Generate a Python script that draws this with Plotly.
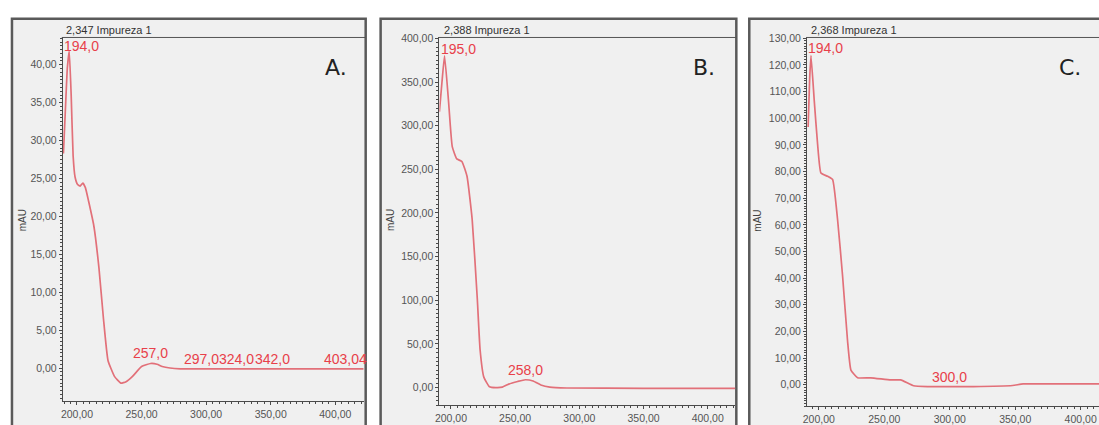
import plotly.graph_objects as go

W, H = 1099, 425

# ---------------- data (wavelength nm, absorbance mAU) ----------------
wl_a = [189.5, 191, 192.5, 194, 195.5, 197, 198.5, 200.5, 202.5, 204.5, 206.5, 209, 213, 217,
        220.5, 224, 229, 234, 238, 243, 250, 257, 262, 266, 272, 280, 300, 350, 422]
abs_a = [28.3, 34, 39.5, 41.8, 36, 28, 25.2, 24.2, 24.0, 24.4, 23.8, 22.0, 18.8, 13.2,
         6.5, 1.0, -1.1, -2.0, -1.8, -1.1, 0.2, 0.6, 0.5, 0.2, 0.0, -0.1, -0.1, -0.1, -0.1]

wl_b = [191, 193, 195, 198, 201, 204.5, 208.5, 212.5, 216.5, 220.5, 222.7, 225.6, 230, 235,
        240, 245, 252, 258, 264, 270, 277, 290, 350, 421.5]
abs_b = [316, 350, 380, 330, 276, 262, 259, 242, 193, 102, 43, 12, 1, 0,
         0.5, 4, 7, 9, 7.5, 3, 0.5, -0.5, -0.8, -0.8]

wl_c = [191.8, 193, 194, 196.5, 199, 201.6, 206.7, 210.5, 214.3, 218.1, 221.9, 224.5, 229.6,
        239.7, 254.9, 262.5, 272.4, 283, 318, 348, 356, 394, 414]
abs_c = [96.7, 115, 123.5, 106.5, 90.5, 79.4, 78.2, 77, 62, 41, 16.6, 5.5, 2.6,
         2.6, 1.8, 1.8, -0.4, -0.7, -0.7, -0.3, 0.3, 0.3, 0.3]

titles = ["2,347 Impureza 1", "2,388 Impureza 1", "2,368 Impureza 1"]
panel_letters = ["A.", "B.", "C."]

# peak labels: (text, wavelength, value)
peaks_a = [("194,0", 194, 41.8), ("257,0", 257, 0.6), ("297,0", 297, -0.1),
           ("324,0", 324, -0.1), ("342,0", 342, -0.1), ("403,04", 403, -0.1)]
peaks_b = [("195,0", 195, 380), ("258,0", 258, 9)]
peaks_c = [("194,0", 194, 123.5), ("300,0", 300, -0.7)]

y_label = "mAU"

# ---------------- layout helpers ----------------
def px(x):
    return x / W


def py(y):
    return 1 - y / H


panels = [
    dict(frame=(8, 363), plot=(59, 361), bottom=402, xr=[189, 422], yr=[-4.4, 43.6],
         dy=5, mdy=0.5, mau_x=18, title_x=60, letter_x=333),
    dict(frame=(378, 735), plot=(437, 734), bottom=406, xr=[191, 421.5], yr=[-20.3, 401],
         dy=50, mdy=5, mau_x=388, title_x=440, letter_x=703),
    dict(frame=(748, 1110), plot=(806, 1099), bottom=407, xr=[191, 414], yr=[-8.1, 130.3],
         dy=10, mdy=1, mau_x=756, title_x=808, letter_x=1070),
]
TOP = 32

fig = go.Figure()
series = [(wl_a, abs_a), (wl_b, abs_b), (wl_c, abs_c)]
curve_color = "#e27079"
label_color = "#e8404a"
axis_color = "#4a4a4a"

shapes = []
annotations = []
for i, (p, (wl, ab)) in enumerate(zip(panels, series)):
    n = "" if i == 0 else str(i + 1)
    fig.add_trace(go.Scatter(x=wl, y=ab, mode="lines", xaxis="x" + n, yaxis="y" + n,
                             line=dict(color=curve_color, width=1.7, shape="spline", smoothing=0.4),
                             hoverinfo="skip", showlegend=False))
    common = dict(showline=True, linecolor=axis_color, linewidth=1, ticks="outside", ticklen=3,
                  tickcolor=axis_color, showgrid=False, zeroline=False, tickformat=".2f",
                  tickfont=dict(family="Liberation Sans, Arial", size=10.5, color="#555555"))
    fig.update_layout(**{
        "xaxis" + n: dict(common, domain=[px(p["plot"][0]), px(p["plot"][1])], range=p["xr"],
                          anchor="y" + n, tick0=200, dtick=50,
                          minor=dict(ticks="outside", ticklen=2, tickcolor=axis_color, dtick=5)),
        "yaxis" + n: dict(common, domain=[py(p["bottom"]), py(TOP)], range=p["yr"],
                          anchor="x" + n, tick0=0, dtick=p["dy"],
                          minor=dict(ticks="outside", ticklen=2, tickcolor=axis_color, dtick=p["mdy"])),
    })
    # frame
    shapes.append(dict(type="rect", xref="paper", yref="paper",
                       x0=px(p["frame"][0]), x1=px(p["frame"][1]), y0=py(445), y1=py(13),
                       fillcolor="#f0f0f0", line=dict(color="#5a5a5a", width=2.5), layer="below"))
    # header line
    shapes.append(dict(type="line", xref="paper", yref="paper",
                       x0=px(p["plot"][0] - 1), x1=px(p["frame"][1]), y0=py(TOP), y1=py(TOP),
                       line=dict(color="#555555", width=1)))
    annotations.append(dict(text=titles[i], xref="paper", yref="paper", x=px(p["title_x"]), y=py(24),
                            xanchor="left", yanchor="middle", showarrow=False,
                            font=dict(family="Liberation Sans, Arial", size=11, color="#333333")))
    annotations.append(dict(text=panel_letters[i], xref="paper", yref="paper", x=px(p["letter_x"]),
                            y=py(63), xanchor="center", yanchor="middle", showarrow=False,
                            font=dict(family="DejaVu Sans", size=22, color="#222222")))
    annotations.append(dict(text=y_label, xref="paper", yref="paper", x=px(p["mau_x"]), y=py(218),
                            xanchor="center", yanchor="middle", showarrow=False, textangle=-90,
                            font=dict(family="Liberation Sans, Arial", size=10, color="#444444")))

lab_font = dict(family="Liberation Sans, Arial", size=14, color=label_color)
# top (apex) labels, shifted so they stay inside the plot area
top_shift = [(12, 5), (14, 7), (15, 8)]
for i, pk in enumerate([peaks_a[0], peaks_b[0], peaks_c[0]]):
    n = "" if i == 0 else str(i + 1)
    annotations.append(dict(text=pk[0], x=pk[1], y=pk[2], xref="x" + n, yref="y" + n,
                            xanchor="center", yanchor="middle", showarrow=False,
                            xshift=top_shift[i][0], yshift=top_shift[i][1], font=lab_font))
# baseline labels
extra_shift = {"297,0": -1, "324,0": -1, "342,0": 12, "403,04": 6}
for i, pks in enumerate([peaks_a[1:], peaks_b[1:], peaks_c[1:]]):
    n = "" if i == 0 else str(i + 1)
    for t, w, v in pks:
        annotations.append(dict(text=t, x=w, y=v, xref="x" + n, yref="y" + n,
                                xanchor="center", yanchor="bottom", showarrow=False,
                                xshift=extra_shift.get(t, 0), yshift=0, font=lab_font))

fig.update_layout(width=W, height=H, margin=dict(l=0, r=0, t=0, b=0),
                  paper_bgcolor="white", plot_bgcolor="rgba(0,0,0,0)",
                  separators=",.", shapes=shapes, annotations=annotations, showlegend=False)

fig.write_html("out.html", config={"displayModeBar": False},
               post_script="document.body.style.margin='0';document.body.style.overflow='hidden';")
